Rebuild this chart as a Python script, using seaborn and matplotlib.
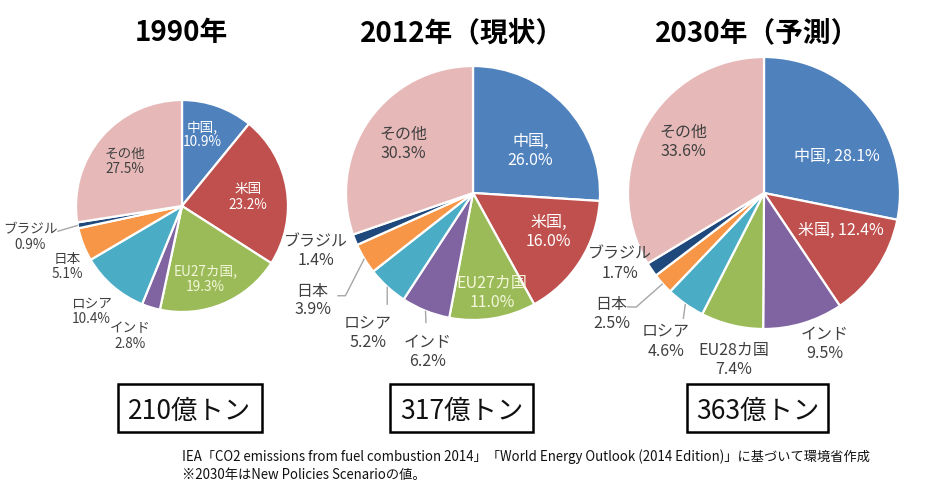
import matplotlib
matplotlib.use('Agg')
import matplotlib.pyplot as plt
from matplotlib.patches import Rectangle
import numpy as np
import seaborn as sns

sns.set_theme(style='white')
plt.rcParams['font.family'] = ['Noto Sans CJK JP', 'DejaVu Sans']

# ---------------- data ----------------
titles = ['1990年', '2012年（現状）', '2030年（予測）']
totals = ['210億トン', '317億トン', '363億トン']

cats_1990 = ['中国', '米国', 'EU27カ国', 'インド', 'ロシア', '日本', 'ブラジル', 'その他']
vals_1990 = [10.9, 23.2, 19.3, 2.8, 10.4, 5.1, 0.9, 27.5]

cats_2012 = ['中国', '米国', 'EU27カ国', 'インド', 'ロシア', '日本', 'ブラジル', 'その他']
vals_2012 = [26.0, 16.0, 11.0, 6.2, 5.2, 3.9, 1.4, 30.3]

cats_2030 = ['中国', '米国', 'インド', 'EU28カ国', 'ロシア', '日本', 'ブラジル', 'その他']
vals_2030 = [28.1, 12.4, 9.5, 7.4, 4.6, 2.5, 1.7, 33.6]

# separator between name and value in each label
seps_1990 = [',\n', '\n', ',\n', '\n', '\n', '\n', '\n', '\n']
seps_2012 = [',\n', ',\n', '\n', '\n', '\n', '\n', '\n', '\n']
seps_2030 = [', ', ', ', '\n', '\n', '\n', '\n', '\n', '\n']

footnote = ['IEA「CO2 emissions from fuel combustion 2014」「World Energy Outlook (2014 Edition)」に基づいて環境省作成',
            '※2030年はNew Policies Scenarioの値。']

# ---------------- style ----------------
color_map = {'中国': '#4F81BD', '米国': '#C0504D', 'EU27カ国': '#9BBB59', 'EU28カ国': '#9BBB59',
             'インド': '#8064A2', 'ロシア': '#4BACC6', '日本': '#F79646', 'ブラジル': '#1F497D',
             'その他': '#E6B9B8'}
DARK = '#404040'
txt_color = {'中国': 'white', '米国': 'white', 'EU27カ国': '#F4F7D9'}

W, H = 934, 484

layouts = [
    dict(cats=cats_1990, vals=vals_1990, seps=seps_1990, center=(182, 206), r=106, fs=9.8,
         dist=[0.70, 0.63, 0.72, 1.32, 1.31, 1.22, 1.46, 0.68],
         off=[3.6, -1.2, -5, -4.5, 0, 6.6, 1.2, 2.6],
         inner=[True, True, True, False, False, False, False, False],
         leaders={'ブラジル': [(1.0, 0), (1.20, 1.0)]},
         title_xy=(181, 33), box=(118, 384, 144, 48)),
    dict(cats=cats_2012, vals=vals_2012, seps=seps_2012, center=(473, 193), r=127, fs=11.5,
         dist=[0.56, 0.67, 0.80, 1.30, 1.38, 1.52, 1.32, 0.67],
         off=[-6.8, 4.9, 1.8, 6, 5.6, 2.7, -1.3, 0.5],
         inner=[True, True, True, False, False, False, False, False],
         leaders={'インド': [(1.0, 0), (1.09, 2.1)],
                  'ロシア': [(1.0, 0), (1.11, 5)],
                  '日本': [(1.0, 0), (1.29, 7.7), (1.34, 6)]},
         title_xy=(462, 33), box=(390, 384, 143, 48)),
    dict(cats=cats_2030, vals=vals_2030, seps=seps_2030, center=(764, 193), r=136, fs=11.5,
         dist=[0.60, 0.63, 1.20, 1.25, 1.31, 1.43, 1.18, 0.70],
         off=[-13.1, 8.1, 5.2, 3.4, 1.9, -3.5, -8.1, -2.9],
         inner=[True, True, False, False, False, False, False, False],
         leaders={'ロシア': [(1.0, 0), (1.10, 2.7)],
                  '日本': [(1.0, 0), (1.26, -0.1), (1.31, -2.1)]},
         title_xy=(757, 33), box=(687, 384, 141, 48)),
]

fig = plt.figure(figsize=(W / 100, H / 100), dpi=100)
ax = fig.add_axes([0, 0, 1, 1])

for i, L in enumerate(layouts):
    cx, cy = L['center'][0], H - L['center'][1]
    r = L['r']
    cols = sns.color_palette([color_map[c] for c in L['cats']])
    wedges, _ = ax.pie(L['vals'], colors=cols, startangle=90, counterclock=False,
                       center=(cx, cy), radius=r,
                       wedgeprops=dict(edgecolor='white', linewidth=1.6))
    for j, (w, cat, val) in enumerate(zip(wedges, L['cats'], L['vals'])):
        mid = (w.theta1 + w.theta2) / 2
        ang = np.deg2rad(mid + L['off'][j])
        d = L['dist'][j] * r
        col = txt_color.get(cat, DARK) if L['inner'][j] else DARK
        ax.text(cx + d * np.cos(ang), cy + d * np.sin(ang), f"{cat}{L['seps'][j]}{val:.1f}%",
                ha='center', va='center', ma='center', fontsize=L['fs'], color=col,
                linespacing=1.15)
        if cat in L['leaders']:
            pts = [(cx + f * r * np.cos(np.deg2rad(mid + o)), cy + f * r * np.sin(np.deg2rad(mid + o)))
                   for f, o in L['leaders'][cat]]
            xs, ys = zip(*pts)
            ax.plot(xs, ys, color='#A6A6A6', lw=1.0, solid_capstyle='butt')
    # title
    tx, ty = L['title_xy']
    ax.text(tx, H - ty, titles[i], ha='center', va='center', fontsize=20,
            fontweight='bold', color='black')
    # total box
    bx, by, bw, bh = L['box']
    ax.add_patch(Rectangle((bx, H - by - bh), bw, bh, fill=True, facecolor='white',
                           edgecolor='black', lw=1.8))
    ax.text(bx + bw / 2, H - by - bh / 2 - 3, totals[i], ha='center', va='center',
            fontsize=19, color='#111111')

# footnote, fitted to reference width
t1 = ax.text(182, H - 457, footnote[0], ha='left', va='center', fontsize=9.5, color='#111111')
t2 = ax.text(182, H - 475, footnote[1], ha='left', va='center', fontsize=9.5, color='#111111')
renderer = fig.canvas.get_renderer()
wpx = t1.get_window_extent(renderer).width
fs = 9.5 * 690 / wpx
t1.set_fontsize(fs)
t2.set_fontsize(fs)

ax.set_xlim(0, W)
ax.set_ylim(0, H)
ax.set_aspect('equal')
ax.axis('off')
fig.savefig('out.png', dpi=100, facecolor='white')
